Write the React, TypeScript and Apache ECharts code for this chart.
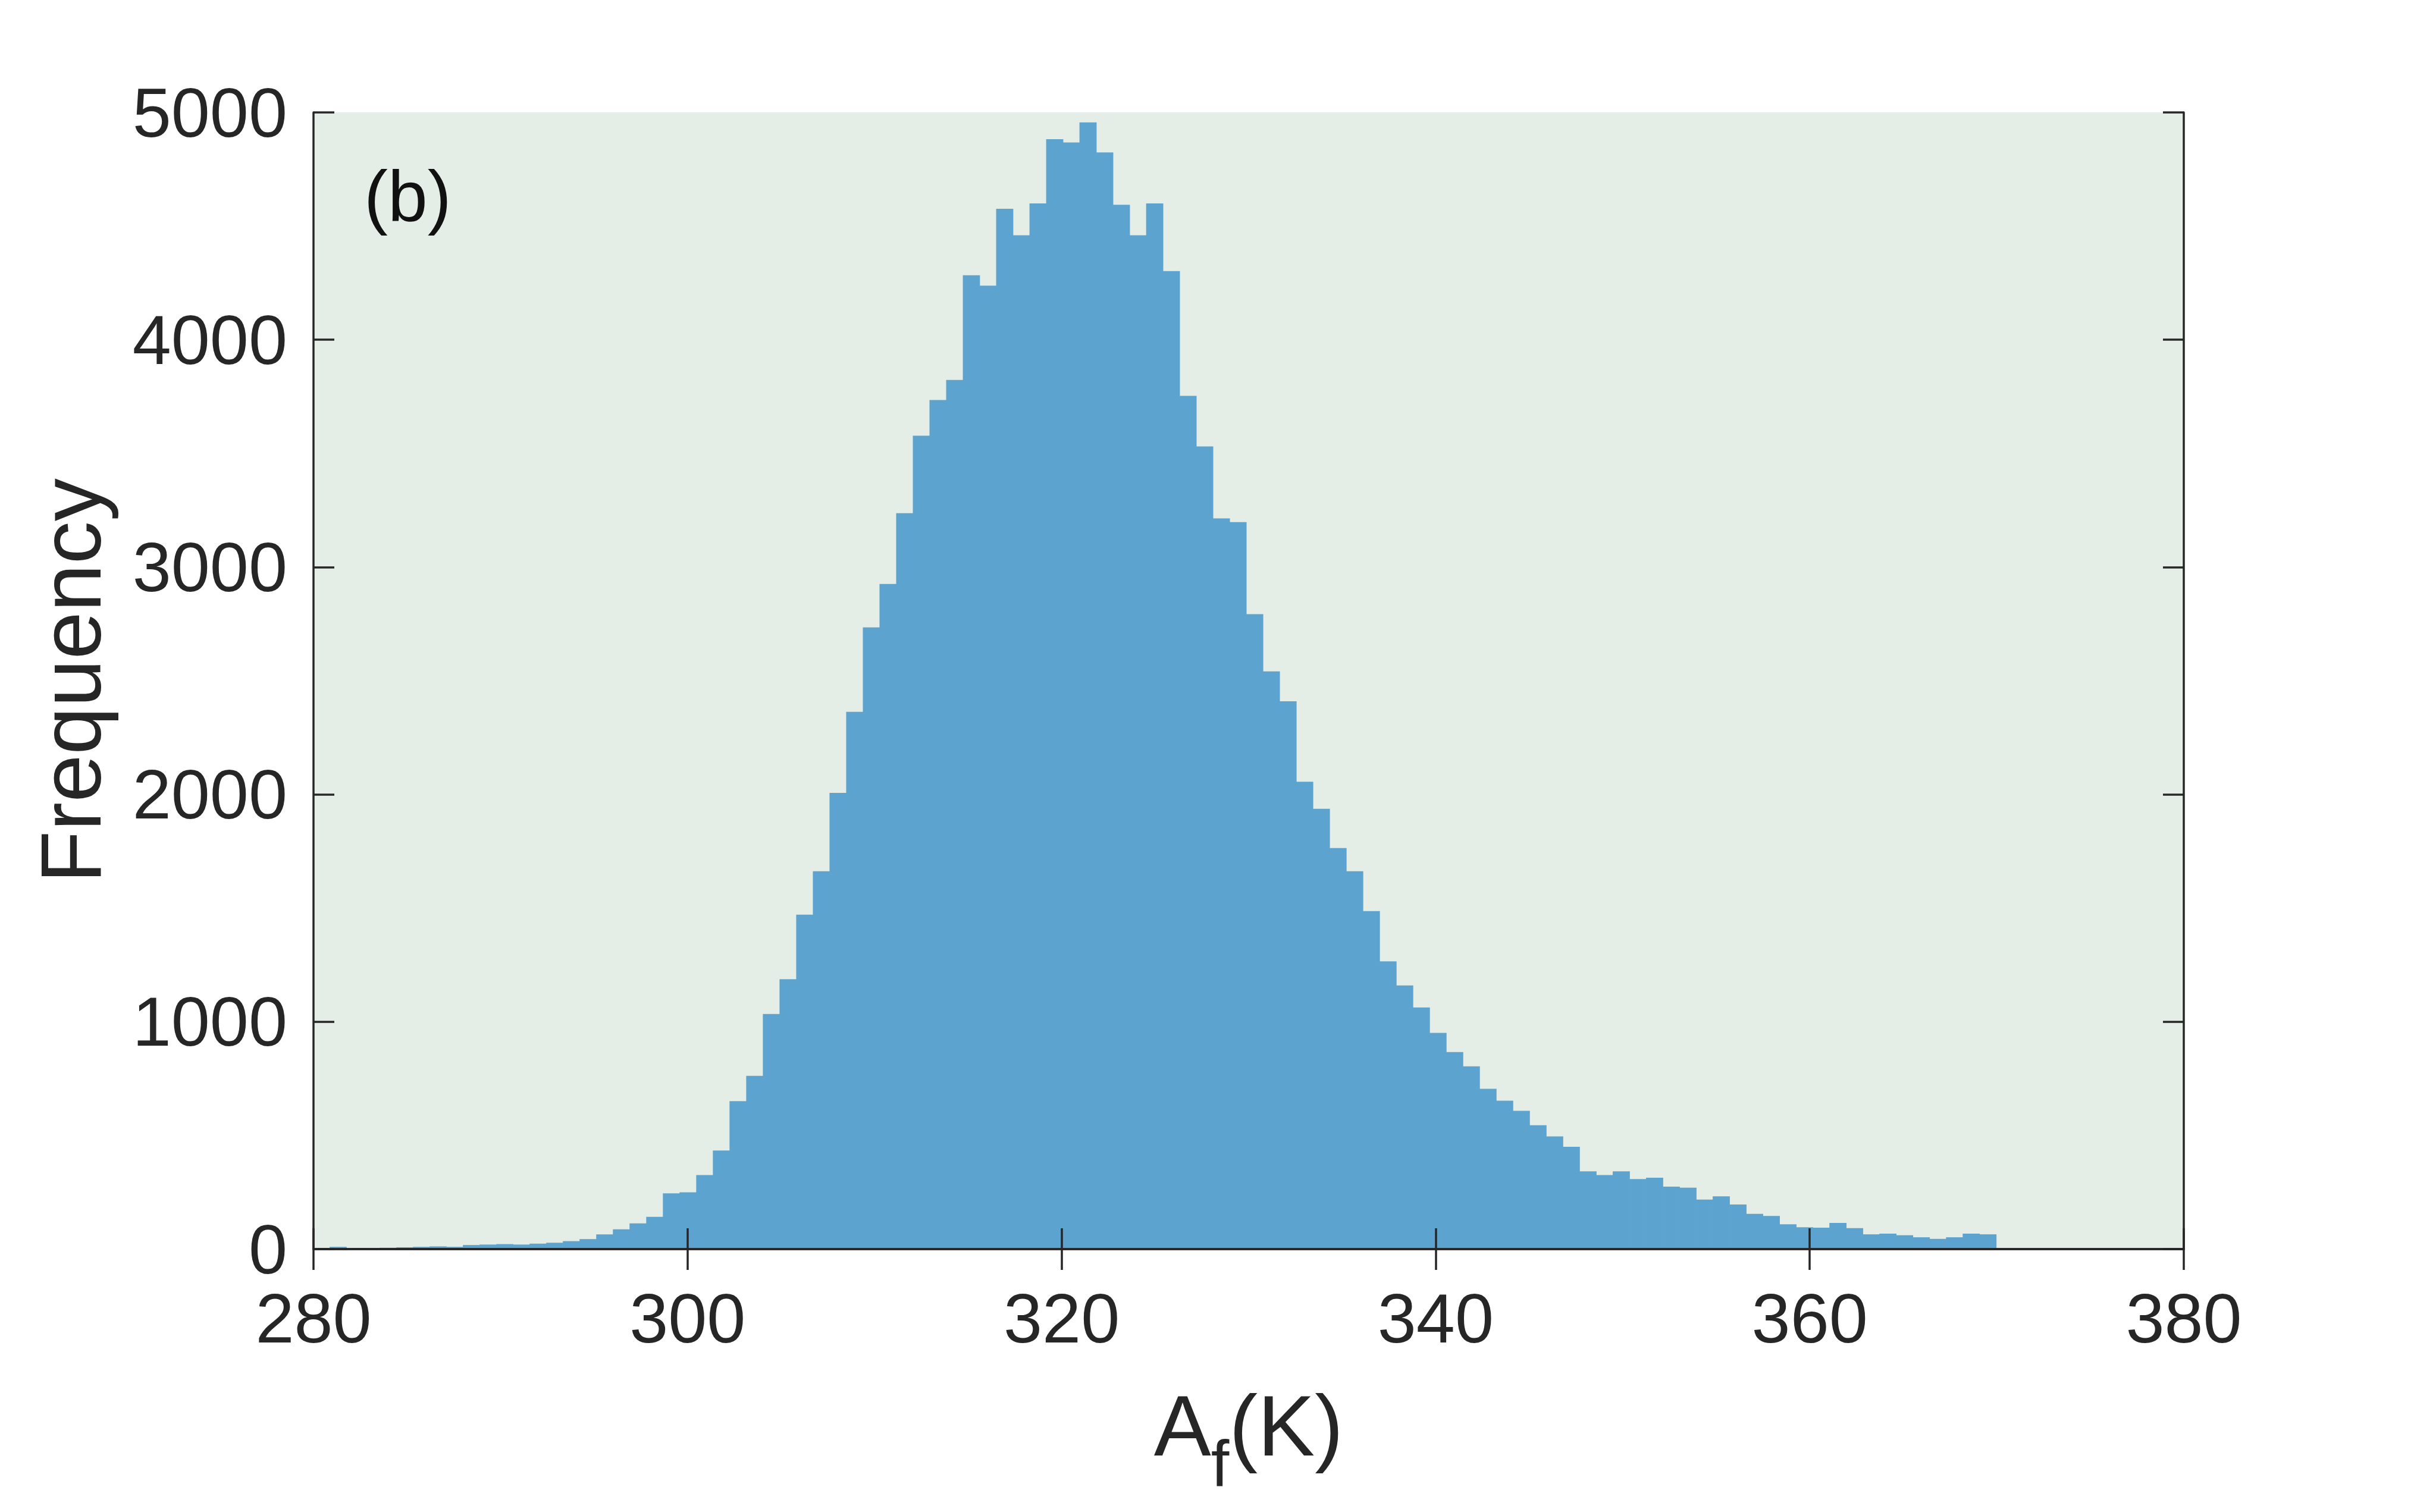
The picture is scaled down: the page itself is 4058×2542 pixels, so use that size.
import React, { useEffect, useRef } from "react";
import * as echarts from "echarts";

// ---- data ----
const xTicks = [280, 300, 320, 340, 360, 380];
const yTicks = [0, 1000, 2000, 3000, 4000, 5000];
const binStart = 280.86;
const binWidth = 0.891;
const counts = [
  10, 5, 4, 6, 8, 10, 12, 10, 18, 20,
  22, 20, 24, 28, 35, 44, 65, 87, 113, 142,
  245, 250, 326, 434, 651, 762, 1034, 1187, 1471, 1662,
  2007, 2363, 2735, 2926, 3237, 3578, 3735, 3823, 4284, 4238,
  4576, 4460, 4600, 4882, 4868, 4956, 4824, 4594, 4460, 4600,
  4302, 3753, 3531, 3214, 3198, 2793, 2541, 2410, 2056, 1937,
  1764, 1662, 1487, 1266, 1160, 1063, 951, 867, 804, 705,
  653, 608, 545, 496, 450, 342, 326, 342, 308, 314,
  275, 270, 218, 232, 196, 155, 146, 109, 96, 94,
  115, 92, 65, 68, 61, 52, 45, 52, 68, 65,
];
const panelLabel = "(b)";
const yName = "Frequency";
const xNameMain = "A";
const xNameSub = "f";
const xNameUnit = "(K)";

const FONT = '"Liberation Sans", Arial, Helvetica, sans-serif';
const AXIS_COLOR = "#262626";
const BAR_COLOR = "#5ca4cf";
const BG_COLOR = "#e5eee6";

export default function App() {
  const ref = useRef<HTMLDivElement>(null);

  useEffect(() => {
    document.body.style.margin = "0";
    if (!ref.current) return;
    const chart = echarts.init(ref.current, undefined, { renderer: "svg" });

    const binData = counts.map((c, i) => [
      binStart + i * binWidth,
      binStart + (i + 1) * binWidth,
      c,
    ]);

    const xMin = xTicks[0];
    const xMax = xTicks[xTicks.length - 1];
    const xInt = xTicks[1] - xTicks[0];
    const yMin = yTicks[0];
    const yMax = yTicks[yTicks.length - 1];
    const yInt = yTicks[1] - yTicks[0];

    const tickStyle = { show: true, inside: true, length: 35, lineStyle: { color: AXIS_COLOR, width: 3.5 } };
    const lineStyle = { show: true, lineStyle: { color: AXIS_COLOR, width: 3.5 } };
    const plain = (v: number) => String(v);

    chart.setOption({
      animation: false,
      backgroundColor: "#ffffff",
      grid: {
        left: 527,
        top: 189,
        right: 4058 - 3671,
        bottom: 2542 - 2100,
        show: true,
        backgroundColor: BG_COLOR,
        borderWidth: 0,
      },
      xAxis: [
        {
          type: "value",
          min: xMin,
          max: xMax,
          interval: xInt,
          z: 10,
          axisLine: lineStyle,
          axisTick: tickStyle,
          splitLine: { show: false },
          axisLabel: {
            margin: 58,
            fontSize: 117,
            fontFamily: FONT,
            color: AXIS_COLOR,
            formatter: plain,
          },
          name: `{a|${xNameMain}}{s|${xNameSub}}{a|${xNameUnit}}`,
          nameLocation: "middle",
          nameGap: 222,
          nameTextStyle: {
            rich: {
              a: { fontSize: 144, lineHeight: 144, fontFamily: FONT, color: AXIS_COLOR, verticalAlign: "top" },
              s: { fontSize: 110, lineHeight: 110, fontFamily: FONT, color: AXIS_COLOR, padding: [125, 0, 0, 0] },
            },
          },
        },
        {
          type: "value",
          position: "top",
          min: xMin,
          max: xMax,
          interval: xInt,
          z: 10,
          axisLine: lineStyle,
          axisTick: tickStyle,
          splitLine: { show: false },
          axisLabel: { show: false },
        },
      ],
      yAxis: [
        {
          type: "value",
          min: yMin,
          max: yMax,
          interval: yInt,
          z: 10,
          axisLine: lineStyle,
          axisTick: tickStyle,
          splitLine: { show: false },
          axisLabel: {
            margin: 44,
            fontSize: 117,
            fontFamily: FONT,
            color: AXIS_COLOR,
            padding: [22, 0, 0, 0],
            formatter: plain,
          },
          name: yName,
          nameLocation: "middle",
          nameGap: 336,
          nameTextStyle: { fontSize: 144, fontFamily: FONT, color: AXIS_COLOR },
        },
        {
          type: "value",
          position: "right",
          min: yMin,
          max: yMax,
          interval: yInt,
          z: 10,
          axisLine: lineStyle,
          axisTick: tickStyle,
          splitLine: { show: false },
          axisLabel: { show: false },
        },
      ],
      graphic: [
        {
          type: "text",
          left: 612,
          top: 329 - 60,
          z: 20,
          style: {
            text: panelLabel,
            font: `120px ${FONT}`,
            fill: "#111111",
          },
        },
      ],
      series: [
        {
          type: "custom",
          xAxisIndex: 0,
          yAxisIndex: 0,
          clip: true,
          data: binData,
          renderItem: (params: any, api: any) => {
            const s = api.value(0);
            const e = api.value(1);
            const c = api.value(2);
            const p0 = api.coord([s, c]);
            const p1 = api.coord([e, 0]);
            return {
              type: "rect",
              shape: {
                x: p0[0],
                y: p0[1],
                width: p1[0] - p0[0] + 0.8,
                height: p1[1] - p0[1],
              },
              style: { fill: BAR_COLOR, stroke: null },
            };
          },
        },
      ],
    });

    return () => {
      chart.dispose();
    };
  }, []);

  return (
    <div
      ref={ref}
      style={{ position: "absolute", left: 0, top: 0, width: 4058, height: 2542 }}
    />
  );
}
